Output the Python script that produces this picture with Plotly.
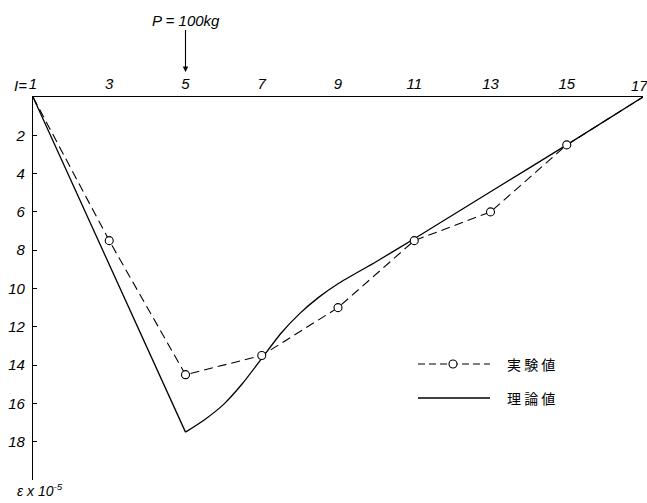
import plotly.graph_objects as go

# Experimental values (実験値)
exp_I = [1, 3, 5, 7, 9, 11, 13, 15, 17]
exp_eps = [0, 7.5, 14.5, 13.5, 11.0, 7.5, 6.0, 2.5, 0]

# Theoretical values (理論値): straight part up to the load point, then a smooth curve
th_I_straight = [1, 5]
th_eps_straight = [0, 17.5]
th_I_curve = [5, 5.5, 6, 6.5, 7, 7.5, 8, 8.5, 9, 10, 11, 13, 15, 17]
th_eps_curve = [17.5, 16.85, 16.05, 14.95, 13.65, 12.35, 11.3, 10.45, 9.75, 8.6, 7.4, 4.95, 2.5, 0]

x_ticks = [1, 3, 5, 7, 9, 11, 13, 15]
x_labels = ["1", "3", "5", "7", "9", "11", "13", "15"]
y_ticks = [2, 4, 6, 8, 10, 12, 14, 16, 18]
y_labels = ["2", "4", "6", "8", "10", "12", "14", "16", "18"]

FONT = "Liberation Sans Narrow, Liberation Sans, Arial"
CJK = "Noto Sans CJK JP"
TICKFONT = dict(family=FONT, size=15, color="black", style="italic")

fig = go.Figure()
fig.add_trace(go.Scatter(
    x=th_I_straight, y=th_eps_straight, mode="lines",
    line=dict(color="black", width=1.3),
    showlegend=False, cliponaxis=False))
fig.add_trace(go.Scatter(
    x=th_I_curve, y=th_eps_curve, mode="lines",
    line=dict(color="black", width=1.3, shape="spline", smoothing=0.6),
    showlegend=False, cliponaxis=False))
fig.add_trace(go.Scatter(
    x=exp_I, y=exp_eps, mode="lines",
    line=dict(color="black", width=1.1, dash="9px,5px"),
    showlegend=False, cliponaxis=False))
fig.add_trace(go.Scatter(
    x=exp_I[1:-1], y=exp_eps[1:-1], mode="markers",
    marker=dict(symbol="circle", size=8, color="white",
                line=dict(color="black", width=1.1)),
    showlegend=False, cliponaxis=False))

fig.update_layout(
    width=647, height=503,
    margin=dict(l=33, r=4, t=97, b=23),
    paper_bgcolor="white", plot_bgcolor="white",
    xaxis=dict(side="top", range=[1, 17], tickmode="array",
               tickvals=x_ticks, ticktext=x_labels,
               showline=True, linecolor="black", linewidth=1.3,
               showgrid=False, zeroline=False, ticks="",
               ticklabelstandoff=1, tickfont=TICKFONT),
    yaxis=dict(range=[20, 0], tickmode="array",
               tickvals=y_ticks, ticktext=y_labels,
               showline=True, linecolor="black", linewidth=1.3,
               showgrid=False, zeroline=False,
               ticks="inside", ticklen=4, tickcolor="black", tickwidth=1,
               ticklabelstandoff=4, tickfont=TICKFONT),
)

# "I=" prefix of the first tick label
fig.add_annotation(x=0, y=1, xref="paper", yref="paper", xshift=-4, yshift=1,
                   text="I=", showarrow=False, xanchor="right", yanchor="bottom",
                   font=TICKFONT)
# last tick label (at the right edge)
fig.add_annotation(x=17, y=1, xref="x", yref="paper", xshift=-4, yshift=1,
                   text="17", showarrow=False, xanchor="center", yanchor="bottom",
                   font=TICKFONT)

# load arrow
fig.add_annotation(x=5, y=1.065, xref="x", yref="paper",
                   text="P = 100kg", showarrow=True, ax=0, ay=-52,
                   arrowhead=2, arrowsize=1, arrowwidth=1.1, arrowcolor="black",
                   font=dict(family=FONT, size=15, color="black", style="italic"))

# axis unit label
fig.add_annotation(x=-18/610, y=-10/383, xref="paper", yref="paper", showarrow=False,
                   text="ε x 10<sup>-5</sup>", xanchor="left", yanchor="middle",
                   font=dict(family=FONT, size=14, color="black", style="italic"))

# manual legend
def px(xp):
    return (xp - 33) / 610
def py(yp):
    return (480 - yp) / 383

fig.add_shape(type="line", xref="paper", yref="paper",
              x0=px(418), x1=px(490), y0=py(364), y1=py(364),
              line=dict(color="black", width=1.1, dash="7px,4px"))
fig.add_shape(type="circle", xref="paper", yref="paper",
              x0=px(449), x1=px(457), y0=py(368), y1=py(360),
              fillcolor="white", line=dict(color="black", width=1.1))
fig.add_shape(type="line", xref="paper", yref="paper",
              x0=px(418), x1=px(490), y0=py(398), y1=py(398),
              line=dict(color="black", width=1.3))
fig.add_annotation(x=px(505), y=py(364), xref="paper", yref="paper",
                   text="実 験 値", showarrow=False, xanchor="left", yanchor="middle",
                   font=dict(family=CJK, size=14, color="black"))
fig.add_annotation(x=px(505), y=py(398), xref="paper", yref="paper",
                   text="理 論 値", showarrow=False, xanchor="left", yanchor="middle",
                   font=dict(family=CJK, size=14, color="black"))

fig.write_html("out.html",
               config={"displayModeBar": False},
               post_script="document.body.style.margin='0';document.body.style.overflow='hidden';")
